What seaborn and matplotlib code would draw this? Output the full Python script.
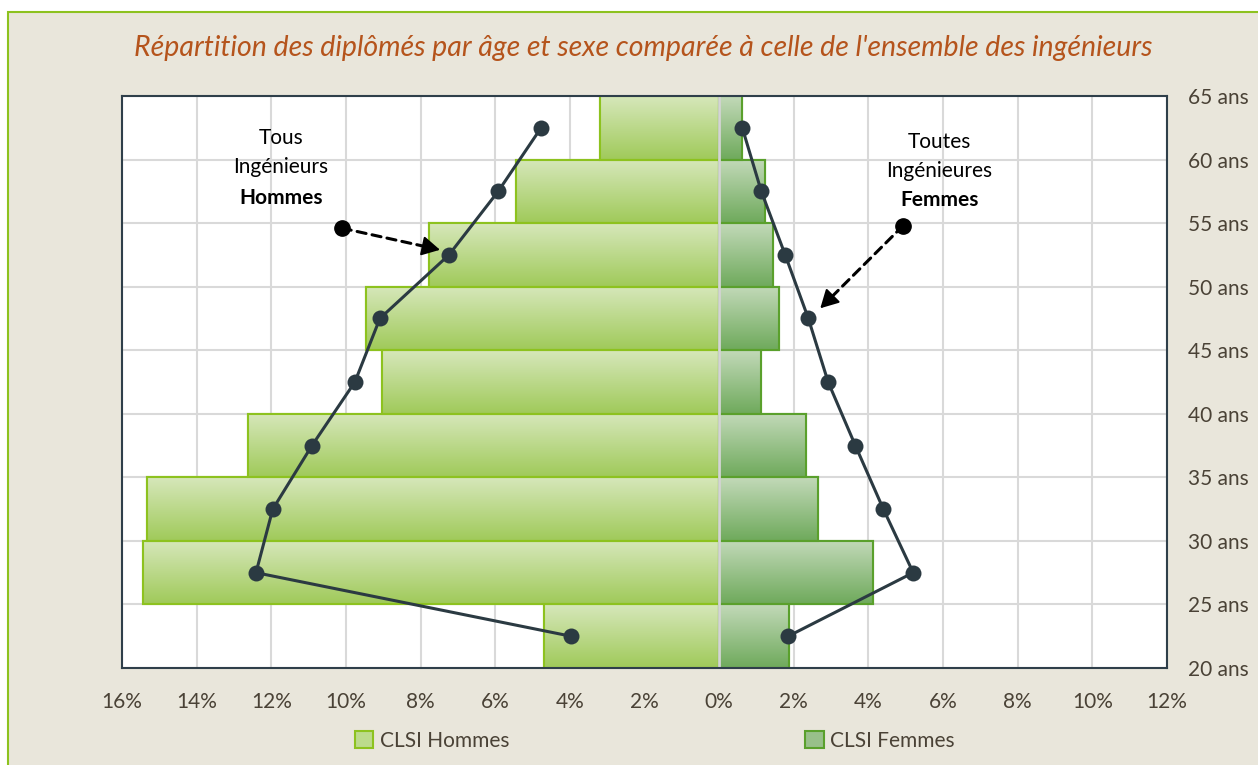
import numpy as np
import pandas as pd
import matplotlib.pyplot as plt
import matplotlib.colors as mcolors
from matplotlib.patches import Rectangle, Patch
import seaborn as sns

# age bands (centre of each 5-year band)
ages = [22.5, 27.5, 32.5, 37.5, 42.5, 47.5, 52.5, 57.5, 62.5]
age_ticks = [20, 25, 30, 35, 40, 45, 50, 55, 60, 65]
age_labels = [f"{a} ans" for a in age_ticks]

# CLSI graduates (% per band)
clsi_hommes = [4.69, 15.44, 15.33, 12.63, 9.03, 9.46, 7.77, 5.44, 3.19]
clsi_femmes = [1.88, 4.13, 2.65, 2.33, 1.13, 1.61, 1.45, 1.23, 0.62]

# all engineers (% per band)
ing_hommes = [3.97, 12.41, 11.96, 10.91, 9.76, 9.09, 7.24, 5.92, 4.77]
ing_femmes = [1.85, 5.20, 4.40, 3.65, 2.92, 2.39, 1.77, 1.13, 0.62]

x_ticks = [-16, -14, -12, -10, -8, -6, -4, -2, 0, 2, 4, 6, 8, 10, 12]

BG = "#E9E6DB"
TXT = "#4A4236"
LINE = "#2B3A42"
FS = 15

sns.set_theme(style="white")
plt.rcParams["font.family"] = ["Lato", "DejaVu Sans"]

fig = plt.figure(figsize=(12.58, 7.65), dpi=100)
fig.patch.set_facecolor("white")
frame = Rectangle((8 / 1258, -0.01), 1.0, 1 - 12 / 765 + 0.01,
                  transform=fig.transFigure, facecolor=BG,
                  edgecolor="#8DC21F", linewidth=1.5, zorder=-10)
fig.patches.append(frame)

ax = fig.add_axes([122 / 1258, 1 - 668 / 765, (1167 - 122) / 1258, (668 - 96) / 765])
ax.set_facecolor("white")

df = pd.DataFrame({
    "age": ages * 2,
    "val": [-v for v in clsi_hommes] + clsi_femmes,
    "sexe": ["CLSI Hommes"] * len(ages) + ["CLSI Femmes"] * len(ages),
})

sns.barplot(data=df[df.sexe == "CLSI Hommes"], x="val", y="age", orient="y",
            native_scale=True, width=1.0, errorbar=None, color="#B8D888",
            edgecolor="#8DC21F", linewidth=1.5, ax=ax, zorder=2)
sns.barplot(data=df[df.sexe == "CLSI Femmes"], x="val", y="age", orient="y",
            native_scale=True, width=1.0, errorbar=None, color="#98C08A",
            edgecolor="#5AA02C", linewidth=1.5, ax=ax, zorder=2)

# vertical gradient inside each bar
grad_h = mcolors.LinearSegmentedColormap.from_list("gh", ["#A0CA5A", "#D6E7BA"])
grad_f = mcolors.LinearSegmentedColormap.from_list("gf", ["#6FAA5C", "#C2D9B8"])
grad = np.linspace(0, 1, 64).reshape(-1, 1)
for p in list(ax.patches):
    x0, y0 = p.get_x(), p.get_y()
    w, h = p.get_width(), p.get_height()
    cmap = grad_h if x0 + w <= 0.001 else grad_f
    im = ax.imshow(grad, cmap=cmap, aspect="auto", origin="lower",
                   extent=[x0, x0 + w, y0, y0 + h], zorder=2.1)
    im.set_clip_path(p)
    edge = Rectangle((x0, y0), w, h, facecolor="none", edgecolor=p.get_edgecolor(),
                     linewidth=1.5, zorder=2.2)
    ax.add_patch(edge)

ax.axvline(0, color="#D4D4D4", linewidth=2, zorder=2.5)

sns.lineplot(x=[-v for v in ing_hommes], y=ages, sort=False, estimator=None,
             color=LINE, linewidth=2.2, marker="o", markersize=11.5,
             markeredgewidth=0, ax=ax, zorder=4)
sns.lineplot(x=ing_femmes, y=ages, sort=False, estimator=None,
             color=LINE, linewidth=2.2, marker="o", markersize=11.5,
             markeredgewidth=0, ax=ax, zorder=4)

ax.set_xlim(-16, 12)
ax.set_ylim(20, 65)
ax.set_xticks(x_ticks)
ax.set_xticklabels([f"{abs(t)}%" for t in x_ticks])
ax.set_yticks(age_ticks)
ax.set_yticklabels(age_labels)
ax.yaxis.tick_right()
ax.tick_params(axis="both", length=0, labelsize=FS, labelcolor=TXT)
ax.tick_params(axis="x", pad=17)
ax.tick_params(axis="y", pad=15)
ax.set_xlabel("")
ax.set_ylabel("")
ax.grid(True, color="#D9D9D9", linewidth=1.5, zorder=0)
ax.set_axisbelow(True)
for s in ax.spines.values():
    s.set_color("#2F3F4A")
    s.set_linewidth(1.5)
    s.set_zorder(5)

# annotations
ann = dict(ha="center", va="center", fontsize=FS, color="black")
ax.text(-11.74, 61.7, "Tous", **ann)
ax.text(-11.74, 59.4, "Ingénieurs", **ann)
ax.text(-11.74, 57.0, "Hommes", fontweight="bold", **ann)
ax.text(5.9, 61.4, "Toutes", **ann)
ax.text(5.9, 59.1, "Ingénieures", **ann)
ax.text(5.9, 56.8, "Femmes", fontweight="bold", **ann)

pointers = [((-10.1, 54.6), (-7.48, 52.9)), ((4.93, 54.8), (2.71, 48.3))]
for start, end in pointers:
    # dashed shaft
    ax.annotate("", xy=end, xytext=start, zorder=6,
                arrowprops=dict(arrowstyle="-", linestyle=(0, (3, 2)), color="black",
                                linewidth=2.2, shrinkA=0, shrinkB=6))
    # solid head
    near = (end[0] - 0.08 * (end[0] - start[0]), end[1] - 0.08 * (end[1] - start[1]))
    ax.annotate("", xy=end, xytext=near, zorder=6,
                arrowprops=dict(arrowstyle="-|>,head_length=0.55,head_width=0.3",
                                color="black", linewidth=1.5, mutation_scale=20,
                                shrinkA=0, shrinkB=0))
    ax.plot(*start, "o", color="black", markersize=11, zorder=6)

fig.text(0.511, 1 - 48 / 765,
         "Répartition des diplômés par âge et sexe comparée à celle de l'ensemble des ingénieurs",
         ha="center", va="center", fontsize=20.5, style="italic", color="#B5541C")

# legend (two entries spread apart)
h_hom = Patch(facecolor="#BCDB8C", edgecolor="#8DC21F", linewidth=1.5)
h_fem = Patch(facecolor="#98C08A", edgecolor="#5AA02C", linewidth=1.5)
leg_kw = dict(frameon=False, fontsize=FS, handlelength=0.9, handleheight=0.9,
              handletextpad=0.3, labelcolor=TXT, loc="center")
fig.legend([h_hom], ["CLSI Hommes"], bbox_to_anchor=(432 / 1258, 1 - 741 / 765), **leg_kw)
fig.legend([h_fem], ["CLSI Femmes"], bbox_to_anchor=(880 / 1258, 1 - 741 / 765), **leg_kw)

fig.savefig("out.png", dpi=100, facecolor=fig.get_facecolor())
